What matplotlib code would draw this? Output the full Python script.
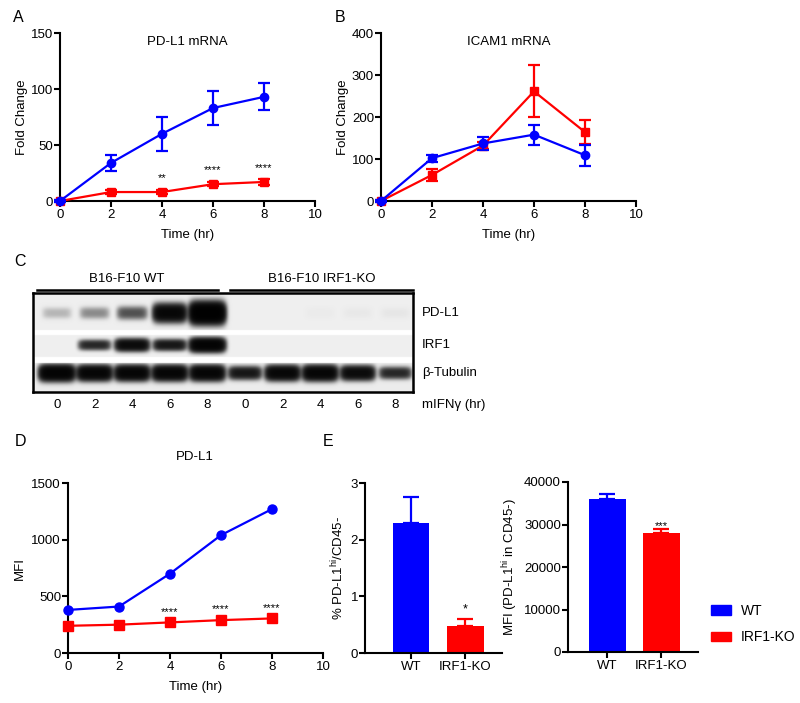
import numpy as np
import matplotlib

matplotlib.use("Agg")
import matplotlib.pyplot as plt
from matplotlib.patches import Patch

BLUE = "#0000ff"
RED = "#ff0000"

plt.rcParams.update(
    {
        "font.family": ["Liberation Sans", "DejaVu Sans"],
        "font.size": 9.5,
        "mathtext.fontset": "custom",
        "mathtext.rm": "Liberation Sans",
        "axes.linewidth": 1.5,
        "axes.spines.top": False,
        "axes.spines.right": False,
        "xtick.major.width": 1.5,
        "ytick.major.width": 1.5,
        "xtick.major.size": 4,
        "ytick.major.size": 4,
        "xtick.major.pad": 1.5,
        "ytick.major.pad": 1,
        "xtick.labelsize": 9.5,
        "ytick.labelsize": 9.5,
    }
)

# ---- data -------------------------------------------------------------------
hours = [0, 2, 4, 6, 8]

pdl1_mrna_wt = [0, 34, 60, 83, 93]
pdl1_mrna_wt_err = [1, 7, 15, 15.5, 12]
pdl1_mrna_ko = [0, 8, 8, 15, 17]
pdl1_mrna_ko_err = [0.5, 1.5, 1.5, 2, 3]
pdl1_mrna_sig = ["", "", "**", "****", "****"]

icam1_wt = [0, 102, 137, 158, 109]
icam1_wt_err = [2, 8, 15, 24, 25]
icam1_ko = [0, 62, 132, 261, 164]
icam1_ko_err = [2, 14, 8, 62, 28]

pdl1_mfi_wt = [380, 410, 700, 1040, 1270]
pdl1_mfi_ko = [240, 250, 270, 290, 305]
pdl1_mfi_sig = ["", "", "****", "****", "****"]

groups = ["WT", "IRF1-KO"]
pct_hi = [2.3, 0.48]
pct_hi_err = [0.46, 0.12]
pct_hi_sig = ["", "*"]
mfi_hi = [36000, 28100]
mfi_hi_err = [1200, 750]
mfi_hi_sig = ["", "***"]

# western blot band strengths, one per lane (WT 0-8 h, then KO 0-8 h)
lane_labels = ["0", "2", "4", "6", "8", "0", "2", "4", "6", "8"]
blot_rows = ["PD-L1", "IRF1", "β-Tubulin"]
pdl1_band = [0.15, 0.3, 0.6, 1.9, 2.8, 0.0, 0.0, 0.01, 0.015, 0.02]
irf1_band = [0.0, 1.0, 1.7, 1.3, 2.2, 0, 0, 0, 0, 0]
tubulin_band = [2.2, 2.0, 2.0, 2.0, 2.0, 1.3, 1.9, 2.0, 1.7, 1.0]

# ---- layout helpers (pixel coords of the 800x703 canvas) ---------------------
W, H = 800, 703


def box(l, t, r, b):
    return [l / W, 1 - b / H, (r - l) / W, (b - t) / H]


fig = plt.figure(figsize=(8.0, 7.03), dpi=100)


def time_panel(rect, ymax, yticks, title):
    ax = fig.add_axes(rect)
    ax.set_xlim(0, 10)
    ax.set_ylim(0, ymax)
    ax.set_xticks([0, 2, 4, 6, 8, 10])
    ax.set_yticks(yticks)
    ax.set_xlabel("Time (hr)", labelpad=6)
    if title:
        ax.text(0.5, 0.93, title, transform=ax.transAxes, ha="center")
    return ax


def series(ax, y, err, color, marker, ms, z):
    ax.errorbar(hours, y, yerr=err, color=color, marker=marker, ms=ms, lw=1.6,
                elinewidth=1.6, capsize=4, capthick=1.6, clip_on=False, zorder=z)


# ---- A -----------------------------------------------------------------------
axA = time_panel(box(60, 33, 315, 201), 150, [0, 50, 100, 150], "PD-L1 mRNA")
series(axA, pdl1_mrna_ko, pdl1_mrna_ko_err, RED, "s", 6, 3)
series(axA, pdl1_mrna_wt, pdl1_mrna_wt_err, BLUE, "o", 6, 4)
axA.set_ylabel("Fold Change", labelpad=2)
for x, y, s in zip(hours, pdl1_mrna_ko, pdl1_mrna_sig):
    if s:
        axA.annotate(s, (x, y), xytext=(0, 8), textcoords="offset points",
                     ha="center", va="baseline", fontsize=8)

# ---- B -----------------------------------------------------------------------
axB = time_panel(box(381, 33, 636, 201), 400, [0, 100, 200, 300, 400], "ICAM1 mRNA")
series(axB, icam1_ko, icam1_ko_err, RED, "s", 6, 3)
series(axB, icam1_wt, icam1_wt_err, BLUE, "o", 6, 4)
axB.set_ylabel("Fold Change", labelpad=2)

# ---- C: western blot -----------------------------------------------------------
axC = fig.add_axes(box(33, 293, 413, 392))
bw, bh = 380, 99
ss = 3
xx = (np.arange(bw * ss) + 0.5) / ss
yy = (np.arange(bh * ss) + 0.5) / ss
X, Y = np.meshgrid(xx, yy)
img = np.ones_like(X)
row_spans = [(0, 37, 0.935), (42, 64, 0.94), (70, bh, 0.925)]
row_centers = [20, 52, 80]
row_heights = [10.0, 6.5, 7.5]
lane_x = 24 + 37.6 * np.arange(len(lane_labels))
for (top, bot, bg), cy, base, bands in zip(row_spans, row_centers, row_heights,
                                           [pdl1_band, irf1_band, tubulin_band]):
    smax = max(bands)
    dark = np.zeros_like(X)
    for cx, strength in zip(lane_x, bands):
        hy = base * (0.5 + 0.5 * strength / smax)
        hx = 17.5 * (0.8 + 0.2 * strength / smax)
        dark += strength * np.exp(-((X - cx) / hx) ** 6) * np.exp(-np.abs((Y - cy) / hy) ** 2.5)
    inside = (Y >= top) & (Y < bot)
    img[inside] = (bg * np.exp(-1.8 * dark))[inside]
axC.imshow(img, cmap="gray", vmin=0, vmax=1, extent=[0, bw, bh, 0],
           aspect="auto", interpolation="bilinear")
axC.set_xlim(0, bw)
axC.set_ylim(bh, 0)
axC.set_xticks([])
axC.set_yticks([])
for side in ("top", "right", "left", "bottom"):
    axC.spines[side].set_visible(True)
    axC.spines[side].set_linewidth(1.8)
axC.plot([4, 185], [-3, -3], color="black", lw=1.8, clip_on=False)
axC.plot([197, 380], [-3, -3], color="black", lw=1.8, clip_on=False)
axC.text(94, -8, "B16-F10 WT", ha="center", va="bottom", fontsize=9.5)
axC.text(289, -8, "B16-F10 IRF1-KO", ha="center", va="bottom", fontsize=9.5)
for cx, lab in zip(lane_x, lane_labels):
    axC.text(cx, 112, lab, ha="center", va="center", fontsize=9.5, clip_on=False)
for cy, lab in zip(row_centers, blot_rows):
    axC.text(389, cy, lab, ha="left", va="center", fontsize=9.5, clip_on=False)
axC.text(389, 112, "mIFNγ (hr)", ha="left", va="center", fontsize=9.5, clip_on=False)

# ---- D -----------------------------------------------------------------------
axD = time_panel(box(68, 483, 323, 653), 1500, [0, 500, 1000, 1500], "")
fig.text(195 / W, 1 - 457 / H, "PD-L1", ha="center", va="center", fontsize=9.5)
axD.plot(hours, pdl1_mfi_ko, color=RED, marker="s", ms=6.5, lw=1.6, clip_on=False, zorder=3)
axD.plot(hours, pdl1_mfi_wt, color=BLUE, marker="o", ms=6.5, lw=1.6, clip_on=False, zorder=4)
axD.set_ylabel("MFI", labelpad=4)
for x, y, s in zip(hours, pdl1_mfi_ko, pdl1_mfi_sig):
    if s:
        axD.annotate(s, (x, y), xytext=(0, 5.5), textcoords="offset points",
                     ha="center", va="baseline", fontsize=8)


# ---- E -----------------------------------------------------------------------
def bar_panel(rect, xlim, vals, errs, sigs, ylim, yticks, ylabel, sig_off):
    ax = fig.add_axes(rect)
    pos = np.arange(len(groups))
    ax.bar(pos, vals, width=0.67, color=[BLUE, RED], zorder=2)
    for p, v, e, c in zip(pos, vals, errs, [BLUE, RED]):
        ax.errorbar([p], [v], yerr=[[0], [e]], color=c, lw=0, elinewidth=1.6,
                    capsize=6, capthick=1.6, zorder=1)
    for p, v, e, s in zip(pos, vals, errs, sigs):
        if s:
            ax.annotate(s, (p, v + e), xytext=(0, sig_off), textcoords="offset points",
                        ha="center", va="baseline", fontsize=9 if len(s) == 1 else 8)
    ax.set_xlim(*xlim)
    ax.set_ylim(*ylim)
    ax.set_xticks(pos)
    ax.set_xticklabels(groups)
    ax.set_yticks(yticks)
    ax.set_ylabel(ylabel, labelpad=3)
    return ax


axE1 = bar_panel(box(365, 483, 502, 653), (-0.844, 1.67), pct_hi, pct_hi_err,
                 pct_hi_sig, (0, 3), [0, 1, 2, 3],
                 r"% PD-L1$^{\mathrm{hi}}$/CD45-", 4.5)
axE2 = bar_panel(box(568, 482, 698, 652), (-0.73, 1.676), mfi_hi, mfi_hi_err,
                 mfi_hi_sig, (0, 40000), [0, 10000, 20000, 30000, 40000],
                 r"MFI (PD-L1$^{\mathrm{hi}}$ in CD45-)", 0)

fig.legend([Patch(color=BLUE), Patch(color=RED)], groups, loc="center left",
           bbox_to_anchor=(698 / W, 1 - 624 / H), frameon=False, fontsize=10,
           handlelength=1.5, handleheight=0.7, labelspacing=0.9, handletextpad=0.7)

# ---- panel letters -------------------------------------------------------------
for lab, x, y in [("A", 18, 18), ("B", 340, 18), ("C", 20, 262), ("D", 20, 442), ("E", 328, 442)]:
    fig.text(x / W, 1 - y / H, lab, ha="center", va="center", fontsize=11.5)

fig.savefig("out.png", dpi=100)
